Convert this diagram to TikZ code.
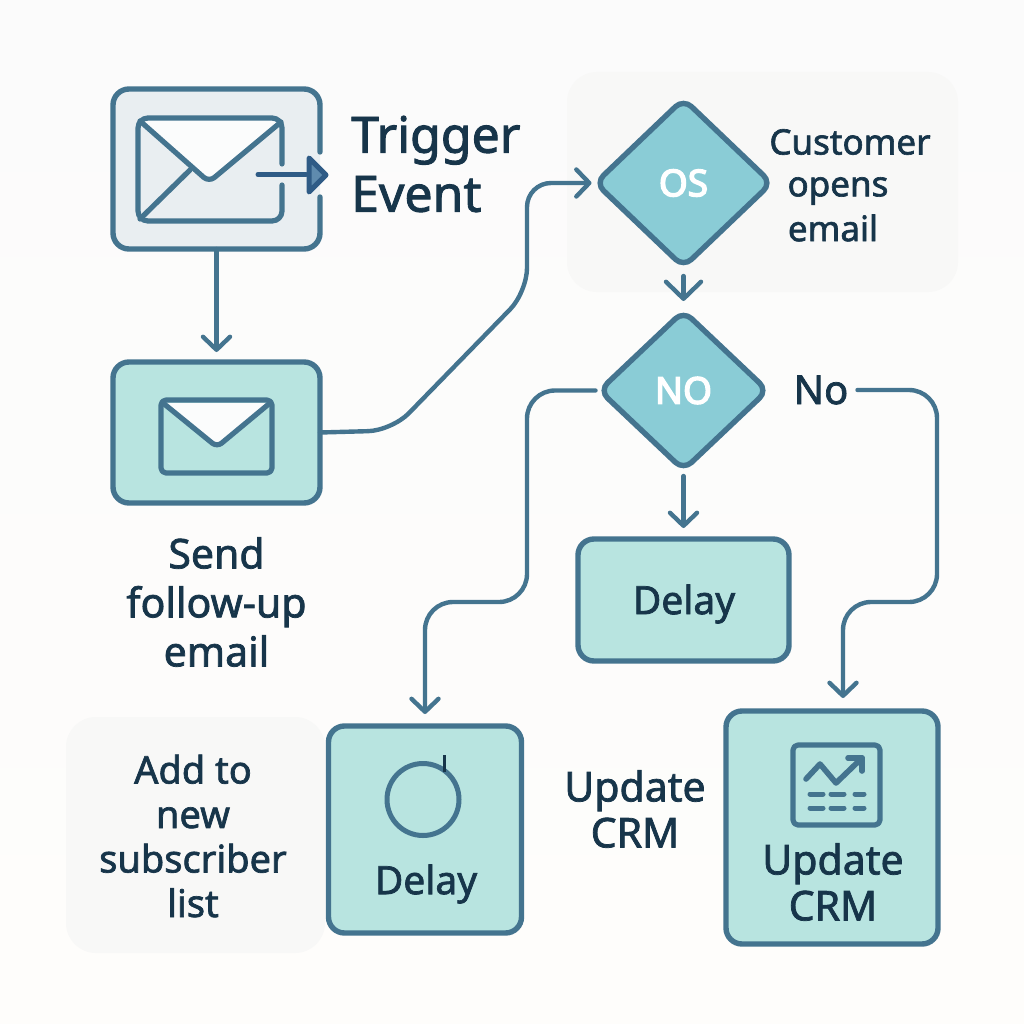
\documentclass[tikz,border=0pt]{standalone}
\usepackage{fontspec}
\setmainfont[RawFeature={embolden=1.8}]{Noto Sans}
\newfontfamily\diafont[RawFeature={embolden=3.8}]{Noto Sans}
\usetikzlibrary{shapes.geometric,arrows.meta}
\definecolor{stroke}{HTML}{44748F}
\definecolor{tealfill}{HTML}{B8E4E0}
\definecolor{diafill}{HTML}{8ACCD6}
\definecolor{ink}{HTML}{17354A}
\definecolor{pale}{HTML}{E9EEF1}
\definecolor{panel}{HTML}{F8F8F7}
\definecolor{bgtop}{HTML}{FBFBFB}
\definecolor{bgbot}{HTML}{FEFDFB}
\definecolor{arrowdark}{HTML}{2F5B86}
\definecolor{arrowmid}{HTML}{5F8BAE}
\definecolor{flapwhite}{HTML}{FBFCFC}
\tikzset{
  boxnode/.style={draw=stroke,fill=tealfill,line width=5.4pt,rounded corners=16pt,inner sep=0pt,outer sep=0pt},
  dia/.style={diamond,draw=stroke,fill=diafill,line width=5.4pt,rounded corners=11pt,inner sep=0pt,outer sep=0pt,text=white,font=\fontsize{37}{40}\selectfont\diafont},
  conn/.style={draw=stroke,line width=4.4pt,line cap=round,rounded corners=28pt,-{Straight Barb[length=13pt,width=27pt,line width=4.4pt,round]}},
  bigconn/.style={conn,-{Straight Barb[length=17pt,width=35pt,line width=4.4pt,round]}},
  icon/.style={draw=stroke,line width=5.2pt,line cap=round,line join=round},
  lbl/.style={text=ink,align=center,inner sep=0pt},
}
\begin{document}
\begin{tikzpicture}[x=1pt,y=-1pt]
\useasboundingbox (0,0) rectangle (1024,1024);
\shade[top color=bgtop,bottom color=bgbot] (0,0) rectangle (1024,1024);
\fill[panel,rounded corners=30pt] (567,72) rectangle (958,292);
\fill[panel,rounded corners=30pt] (66,717) rectangle (325,953);

% Nodes
\node[fill=pale,rounded corners=16pt,minimum width=207pt,minimum height=160pt,inner sep=0pt,outer sep=0pt] (trigger) at (216.5,169) {};
\node[boxnode,minimum width=207pt,minimum height=141pt] (send) at (216.5,432.5) {};
\node[dia,minimum width=176pt,minimum height=168pt] (os) at (683.5,183) {OS};
\node[dia,minimum width=168pt,minimum height=159pt] (no) at (683.5,390.5) {NO};
\node[boxnode,minimum width=211pt,minimum height=122pt] (delayA) at (683.5,600) {};
\node[boxnode,minimum width=193pt,minimum height=207pt] (delayB) at (425,829.5) {};
\node[boxnode,minimum width=212pt,minimum height=233pt] (crm) at (832,827.5) {};

% Trigger outline with a gap for the arrow
\draw[icon,line width=5.4pt,rounded corners=16pt] (320,152) -- (320,89) -- (113,89) -- (113,249) -- (320,249) -- (320,197);

% Trigger envelope
\fill[flapwhite,rounded corners=6pt] (141,120) -- (280,120) -- (209,181) -- cycle;
\draw[icon,rounded corners=10pt] (282,164) -- (282,118) -- (138,118) -- (138,221) -- (282,221) -- (282,185);
\draw[icon,rounded corners=7pt] (140,121) -- (209,182) -- (281,122);
\draw[icon] (140,219) -- (190,170);
\draw[draw=arrowdark,line width=5pt,line cap=round] (258,174.5) -- (306,174.5);
\draw[draw=arrowdark,fill=arrowmid,line width=5pt,line join=round] (309,158) -- (326,175) -- (309,192) -- cycle;

% Send envelope
\draw[icon,fill=tealfill,rounded corners=5pt] (161,400) rectangle (272,473);
\fill[flapwhite,rounded corners=4pt] (165,403) -- (268,403) -- (217,446) -- cycle;
\draw[icon,rounded corners=6pt] (163,403) -- (217,447) -- (270,403);

% Clock
\node[circle,draw=stroke,line width=5pt,minimum size=72pt,inner sep=0pt] (clock) at (423,799.5) {};
\coordinate (tickA) at (444.5,755);
\coordinate (tickB) at (444.5,772);
\draw[draw=ink,line width=3.4pt] (tickA) -- (tickB);

% Chart
\draw[icon,rounded corners=5pt] (793,745) rectangle (880,825);
\draw[icon,line width=5.6pt] (806,779) -- (820,764) -- (836,783) -- (862,758);
\draw[icon,line width=5.6pt] (848,758) -- (862,758) -- (862,771);
\foreach \ry in {794,808}{
  \draw[icon,line width=5pt] (810,\ry) -- (823,\ry);
  \draw[icon,line width=5pt] (831,\ry) -- (844,\ry);
  \draw[icon,line width=5pt] (855,\ry) -- (864,\ry);
}

% Labels
\node[lbl,anchor=west,align=left,font=\fontsize{50}{59}\selectfont] (ttrigger) at (351,164) {Trigger\\Event};
\node[lbl,font=\fontsize{41}{49}\selectfont] (tsend) at (216.5,602) {Send\\follow-up\\email};
\node[lbl,font=\fontsize{35}{43}\selectfont] (tcust) at (850,142) {Customer};
\node[lbl,font=\fontsize{35}{43}\selectfont] (topens) at (838,191) {opens};
\node[lbl,font=\fontsize{35}{43}\selectfont] (temail) at (833,228) {email};
\node[lbl,font=\fontsize{40}{46}\selectfont] (tno) at (821,390) {No};
\node[lbl,font=\fontsize{38}{44.5}\selectfont] (tadd) at (193,836) {Add to\\new\\subscriber\\list};
\node[lbl,font=\fontsize{39}{44}\selectfont] (tdelayA) at (684,604) {Delay};
\node[lbl,font=\fontsize{39}{44}\selectfont] (tdelay) at (426,884) {Delay};
\node[lbl,font=\fontsize{41}{46}\selectfont] (tcrm) at (635,809) {Update\\CRM};
\node[lbl,font=\fontsize{41}{46}\selectfont] (tcrmin) at (833,882) {Update\\CRM};

% Connectors
\draw[conn,shorten >=10pt] (trigger.south) -- (send.north);
\draw[conn,shorten >=4pt,rounded corners=24pt] (send.east) -- (392,430.5) -- (527,292) -- (527,183) -- (os.west);
\draw[bigconn,shorten <=9pt,shorten >=10pt] (os.south) -- (no.north);
\draw[conn,shorten <=6pt,shorten >=11pt] (no.south) -- (delayA.north);
\draw[conn,shorten <=4pt,shorten >=12pt] (no.west) -- (527,390.5) -- (527,602) -- (425,602) -- (delayB.north);
\draw[conn,shorten <=9pt,shorten >=13pt] (tno.east) -- (937,390) -- (937,602) -- (843,602) -- ([xshift=11pt]crm.north);
\end{tikzpicture}
\end{document}
